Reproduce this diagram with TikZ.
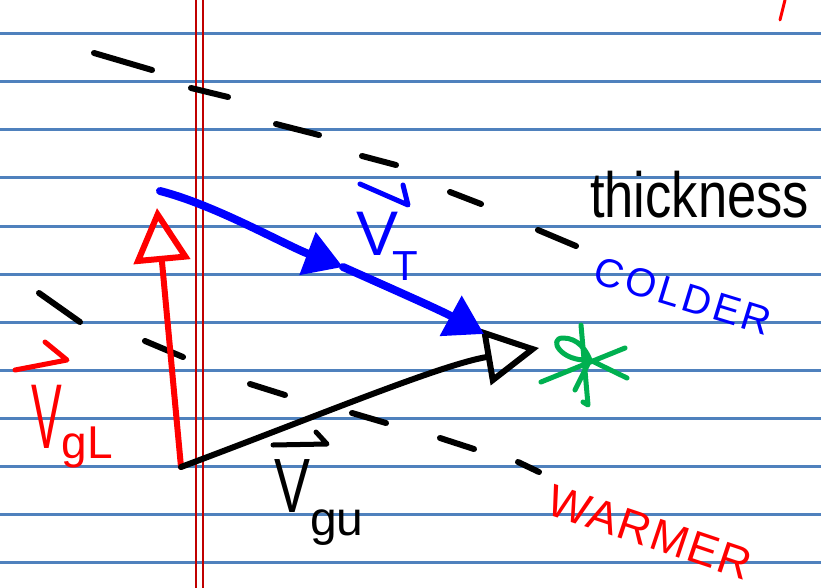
\documentclass[tikz,border=0pt]{standalone}
\usepackage{fontspec}
\setmainfont{Liberation Sans}
\usetikzlibrary{arrows.meta}
\definecolor{ruleblue}{RGB}{79,129,189}
\definecolor{margred}{RGB}{192,0,0}
\definecolor{stargreen}{RGB}{0,176,80}
\newcommand{\fs}[1]{\fontsize{#1}{#1}\selectfont}
\begin{document}
\begin{tikzpicture}[x=1pt,y=-1pt,line cap=round,line join=round,
  pen/.style={line width=6pt},
  tick/.style={line width=6pt},
  opentip/.style={-{Triangle[open,length=54pt,width=56pt]}},
  fulltip/.style={-{Triangle[length=38pt,width=44pt]}},
  lbl/.style={anchor=base west,inner sep=0pt}]
\useasboundingbox (0,0) rectangle (821,588);
\fill[white] (0,0) rectangle (821,588);
% ruled paper
\foreach \y in {34,82,...,562} \draw[ruleblue,line width=3pt] (0,\y) -- (821,\y);
\draw[margred,line width=1.5pt] (196,0) -- (196,588) (203,0) -- (203,588);
\draw[red,line width=3pt] (785,0) -- (780,20);
% thickness lines
\foreach \xa/\ya/\xb/\yb in {94/53/152/70,191/88/228/97,276/124/319/135,362/156/396/165,450/192/481/204,538/230/576/246}
  \draw[tick] (\xa,\ya) -- (\xb,\yb);
\foreach \xa/\ya/\xb/\yb in {39/293/80/322,145/341/183/357,250/384/285/395,352/413/386/423,440/438/474/449,518/462/539/472}
  \draw[tick] (\xa,\ya) -- (\xb,\yb);
% vectors
\coordinate (O) at (181,467);
\coordinate (gL) at (157,208);
\coordinate (gu) at (539,348);
\coordinate (T0) at (160,191);
\coordinate (Tm) at (343,267);
\coordinate (T1) at (484,334);
\draw[red,pen,opentip] (O) -- (gL);
\draw[pen,opentip] (O) .. controls (320,415) and (440,365) .. (gu);
\draw[blue,line width=8pt,fulltip] (T0) .. controls (215,205) and (285,245) .. (Tm);
\draw[blue,line width=8pt,fulltip] (Tm) .. controls (390,288) and (440,310) .. (T1);
% star
\draw[stargreen,line width=5pt] (581,325) -- (588,405) -- (583,402)
  (541,382) -- (625,348)
  (575,390) -- (590,360) .. controls (560,362) and (548,338) .. (563,338)
  .. controls (578,338) and (586,350) .. (590,360) -- (627,378);
% labels
\node[lbl,font=\fs{64}] (thick) at (590,217) {\scalebox{0.82}[1]{thickness}};
\node[blue,font=\fs{40},rotate=-17] (cold) at (683,296) {\addfontfeature{LetterSpace=8}COLDER};
\node[red,font=\fs{45},rotate=-18.5] (warm) at (650,532) {\addfontfeature{LetterSpace=4}WARMER};
\node[red,lbl,font=\fs{92}] (vgL) at (31,448) {\scalebox{0.5}[1]{V}\raisebox{-10pt}{\fs{46}gL}};
\draw[red,line width=5pt] (15,370) -- (67,360) -- (45,342);
\node[lbl,font=\fs{77}] (vgu) at (274,512) {\scalebox{0.7}[1]{V}\raisebox{-23pt}{\fs{48}gu}};
\draw[line width=5pt] (273,445) -- (327,444) -- (316,432);
\node[blue,lbl,font=\fs{63}] (vT) at (356,255) {V\kern-6pt\raisebox{-25pt}{\fs{42}T}};
\draw[blue,line width=5pt] (360,184) -- (408,205) -- (403,185);
\end{tikzpicture}
\end{document}
